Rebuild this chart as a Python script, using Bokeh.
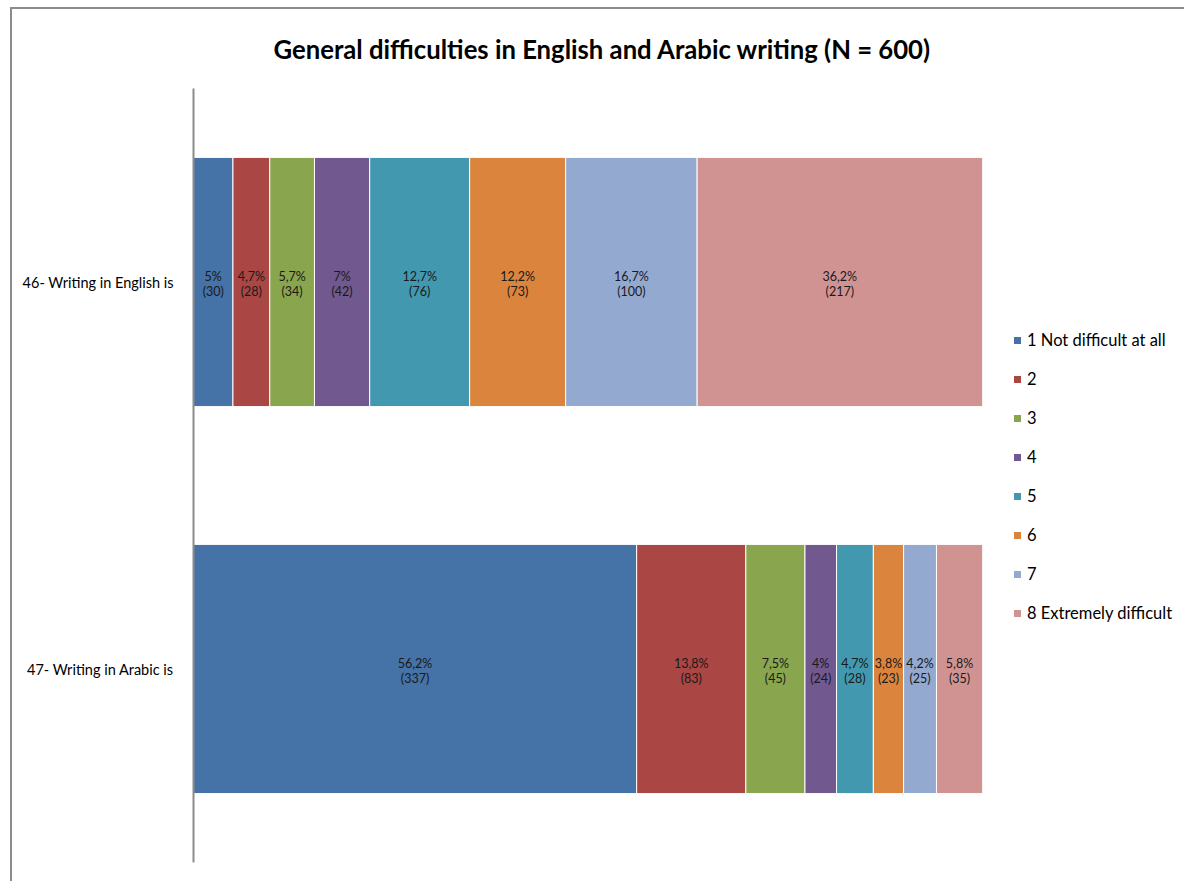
from bokeh.plotting import figure
from bokeh.models import (ColumnDataSource, FactorRange, Range1d, Legend,
                          LegendItem, InlineStyleSheet)
from bokeh.core.properties import value
from bokeh.embed import file_html
from bokeh.resources import INLINE

# Survey items (top to bottom) and the eight answer levels
questions = ["46- Writing  in English is", "47- Writing  in Arabic is"]
levels = ["1 Not difficult at all", "2", "3", "4", "5", "6", "7",
          "8 Extremely difficult"]
english_counts = [30, 28, 34, 42, 76, 73, 100, 217]
arabic_counts = [337, 83, 45, 24, 28, 23, 25, 35]
total_n = 600
colors = ["#4572A7", "#AA4643", "#89A54E", "#71588F",
          "#4198AF", "#DB843D", "#93A9CF", "#D19392"]
title_text = "General difficulties in English and Arabic writing (N = 600)"

FONT = "Lato"

series = {questions[0]: english_counts, questions[1]: arabic_counts}
keys = [f"level_{i + 1}" for i in range(len(levels))]
data = {"q": questions}
for i, k in enumerate(keys):
    data[k] = [series[q][i] for q in questions]
src = ColumnDataSource(data)

p = figure(frame_width=789, frame_height=774,
           output_backend="svg", toolbar_location=None,
           x_range=Range1d(0, total_n),
           y_range=FactorRange(factors=[questions[1], questions[0]]),
           min_border_left=193, min_border_right=202,
           min_border_top=88, min_border_bottom=19,
           title=title_text)
p.background_fill_color = "white"
p.border_fill_color = "white"
p.outline_line_color = None
p.grid.visible = False
p.xaxis.visible = False

# Title
p.title.align = "left"
p.title.offset = 80
p.title.standoff = 49
p.title.text_font = FONT
p.title.text_font_size = "25.7px"
p.title.text_font_style = "bold"
p.title.text_color = "black"

renderers = p.hbar_stack(keys, y="q", height=0.644, color=colors,
                         line_color="white", line_width=1, source=src)

# Percent / count labels centred in each segment
def pct_text(n):
    s = f"{round(100 * n / total_n, 1):.1f}"
    if s.endswith(".0"):
        s = s[:-2]
    return s.replace(".", ",") + "%"

lx, ly, lt = [], [], []
for q in questions:
    left = 0
    for n in series[q]:
        lx.append(left + n / 2)
        ly.append(q)
        lt.append(f"{pct_text(n)}\n({n})")
        left += n
p.text(x=lx, y=ly, text=lt, text_align="center", text_baseline="middle",
       text_font=value(FONT), text_font_size="12.5px", text_color="#1a1a1a",
       text_line_height=1.02, y_offset=2)

# Category axis
ax = p.yaxis[0]
ax.axis_line_color = "#8c8c8c"
ax.axis_line_width = 2
ax.major_tick_line_color = None
ax.minor_tick_line_color = None
ax.major_label_text_font = FONT
ax.major_label_text_font_size = "14.5px"
ax.major_label_text_color = "black"
ax.major_label_standoff = 10

# Legend to the right of the bars
items = [LegendItem(label=lab, renderers=[r]) for lab, r in zip(levels, renderers)]
legend = Legend(items=items, location=(30, 239), orientation="vertical",
                padding=0, margin=0, spacing=19, label_height=20,
                glyph_height=10, glyph_width=10, label_standoff=5,
                label_text_font=FONT, label_text_font_size="16.5px",
                label_text_color="black",
                border_line_color=None, background_fill_alpha=0)
p.add_layout(legend, "right")

# Chart area border (left and top edges fall inside the page)
p.stylesheets = [InlineStyleSheet(css="""
:host::after {
  content: "";
  position: absolute;
  left: 10px; top: 7px; right: 0; bottom: 0;
  border-left: 2px solid #8c8c8c;
  border-top: 2px solid #8c8c8c;
  pointer-events: none;
}
""")]

open("out.html", "w").write(file_html(p, INLINE))
